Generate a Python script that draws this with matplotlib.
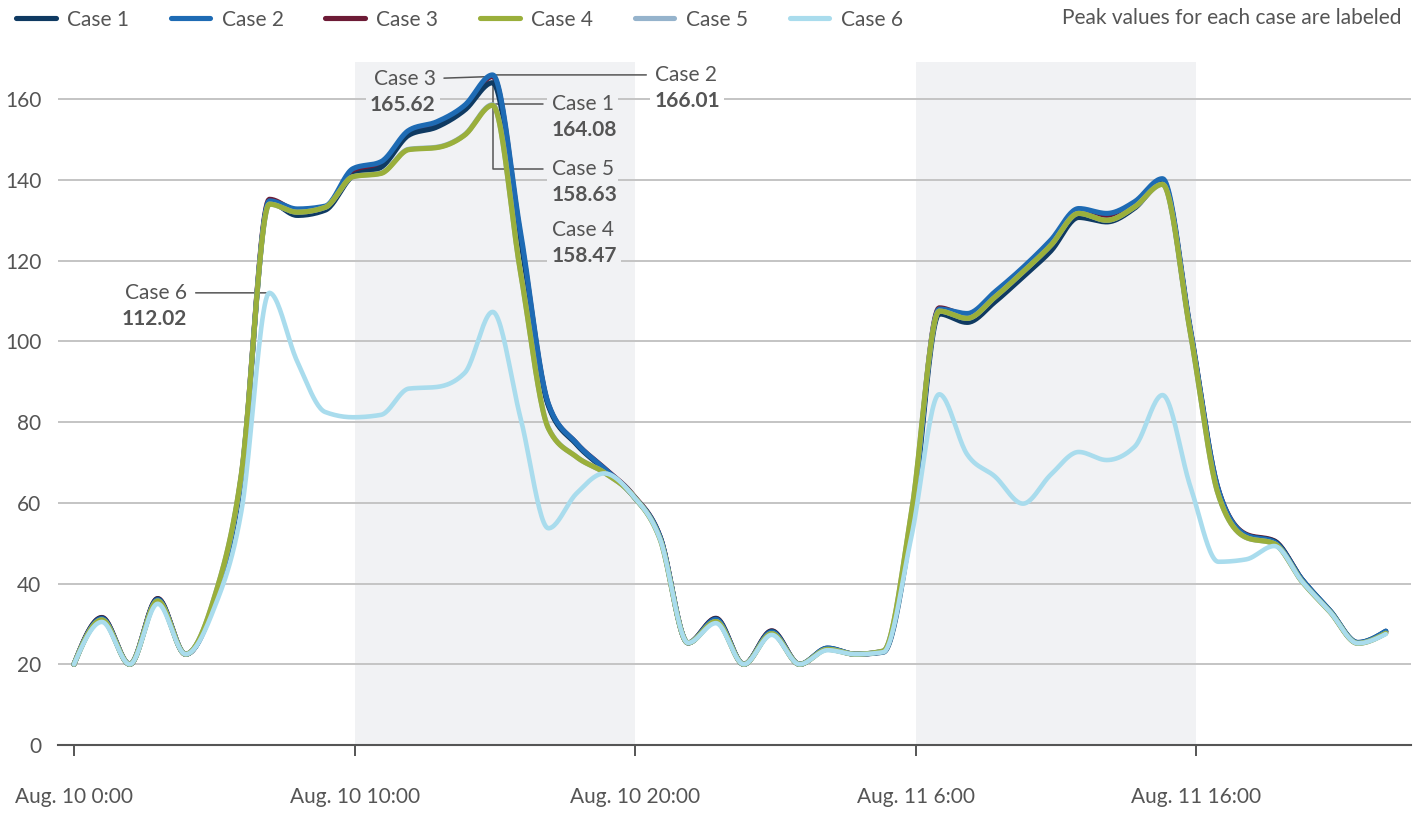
import matplotlib
matplotlib.use('Agg')
import matplotlib.pyplot as plt
from matplotlib.lines import Line2D
import numpy as np

plt.rcParams['font.family'] = ['Lato', 'DejaVu Sans']

# 48 samples, Aug 10 0:00 -> Aug 11 22:45
hours = np.linspace(0, 46.75, 48)

case1 = [20, 31.5, 20, 36.2, 22.5, 35, 66, 134.5, 131.2, 132.5, 141, 143.1, 151.1, 153.1, 157.3, 164.08,
         125, 84, 74.5, 68.3, 62, 51.5, 25.3, 31.3, 20, 28.2, 20, 24, 22.5, 23, 54, 106.8,
         104.7, 109.8, 116, 122.4, 130.7, 129.6, 133, 139.3, 102.5, 63, 52, 50.5, 41, 33.3, 25.4, 28.2]
case2 = [20, 31.3, 20, 36, 22.5, 35.2, 66.5, 134.8, 132.8, 133.5, 142.8, 144.5, 152.3, 154.4, 158.5, 166.01,
         127, 84.5, 74.8, 68.5, 62, 51.5, 25.3, 31.1, 20, 28, 20, 24, 22.5, 23.2, 55, 108,
         106.9, 112.3, 118.3, 125.1, 132.9, 131.7, 134.6, 140.3, 103, 63.3, 52, 50.3, 41, 33.3, 25.4, 28.2]
case3 = [20, 31.6, 20, 36.3, 22.5, 35.3, 66.8, 135.2, 132.5, 133.2, 142, 143.8, 151.8, 153.8, 158, 165.62,
         126, 84.3, 74.8, 68.6, 62.2, 51.6, 25.3, 31.4, 20, 28.3, 20, 23.9, 22.5, 23.2, 55.5, 108.3,
         106.5, 112, 118, 124.5, 132.3, 131, 134, 139.8, 102.8, 63.3, 52.2, 50.6, 41, 33.2, 25.3, 28]
case4 = [20, 31, 20, 35.7, 22.5, 35.9, 67.3, 134, 132, 133.2, 140.8, 141.6, 147.5, 148, 151.1, 158.47,
         117, 78.4, 71.4, 67.5, 62, 51, 25.3, 30.6, 20, 27.6, 20, 23.7, 22.5, 23.3, 57.4, 107.5,
         105.7, 111, 117.2, 123.8, 131.7, 130, 133.3, 138.9, 102, 62, 51.4, 49.9, 40.5, 33, 25.2, 27.7]
case5 = [20, 31, 20, 35.7, 22.5, 35.9, 67.2, 134, 132, 133.2, 140.8, 141.7, 147.6, 148.1, 151.2, 158.63,
         117.2, 78.5, 71.4, 67.5, 62, 51, 25.3, 30.6, 20, 27.6, 20, 23.7, 22.5, 23.3, 57.2, 107.5,
         105.7, 111, 117.2, 123.8, 131.7, 130, 133.3, 138.9, 102, 62, 51.4, 49.9, 40.5, 33, 25.2, 27.7]
case6 = [20, 30.5, 20, 35, 22.5, 33.5, 58, 112.02, 95, 82.5, 81.2, 81.8, 88.3, 88.7, 92.2, 107.3,
         81, 53.7, 62.3, 67.3, 62, 51, 25.3, 30.2, 20, 27.3, 20, 23.5, 22.5, 23, 51.5, 86.9,
         72, 66.5, 59.8, 67, 72.6, 70.6, 73.9, 86.7, 64, 45.4, 46, 49.3, 40.5, 33, 25.2, 27.5]

names = ['Case 1', 'Case 2', 'Case 3', 'Case 4', 'Case 5', 'Case 6']
series = [case1, case2, case3, case4, case5, case6]
colors = ['#0f3a62', '#1e6bb4', '#6d1b36', '#9aaf3b', '#95b3cc', '#a9dced']
draw_order = [2, 0, 1, 4, 3, 5]

shade_spans = [(10, 20), (30, 40)]
tick_hours = [0, 10, 20, 30, 40]
tick_labels = ['Aug. 10 0:00', 'Aug. 10 10:00', 'Aug. 10 20:00', 'Aug. 11 6:00', 'Aug. 11 16:00']

TXT = '#555555'
SHADE = '#f1f2f4'


def monotone(x, y, n=24):
    # same idea as d3.curveMonotoneX
    x = np.asarray(x, float)
    y = np.asarray(y, float)
    h = np.diff(x)
    s = np.diff(y) / h
    m = np.zeros_like(y)
    for i in range(1, len(y) - 1):
        p = (s[i - 1] * h[i] + s[i] * h[i - 1]) / (h[i - 1] + h[i])
        m[i] = (np.sign(s[i - 1]) + np.sign(s[i])) * min(abs(s[i - 1]), abs(s[i]), 0.5 * abs(p))
    m[0] = (3 * s[0] - m[1]) / 2
    m[-1] = (3 * s[-1] - m[-2]) / 2
    xs, ys = [], []
    for i in range(len(h)):
        t = np.linspace(0, 1, n, endpoint=(i == len(h) - 1))
        h00 = 2 * t**3 - 3 * t**2 + 1
        h10 = t**3 - 2 * t**2 + t
        h01 = -2 * t**3 + 3 * t**2
        h11 = t**3 - t**2
        xs.append(x[i] + t * h[i])
        ys.append(h00 * y[i] + h10 * h[i] * m[i] + h01 * y[i + 1] + h11 * h[i] * m[i + 1])
    return np.concatenate(xs), np.concatenate(ys)


fig = plt.figure(figsize=(14.21, 8.13), dpi=100)
ax = fig.add_axes([0.0408, 0.0836, 0.9522, 0.8401])

for a, b in shade_spans:
    ax.axvspan(a, b, color=SHADE, lw=0, zorder=0)

for z, k in enumerate(draw_order):
    sx, sy = monotone(hours, series[k])
    lw = 3.3 if k == 5 else 3.7
    ax.plot(sx, sy, color=colors[k], lw=lw, solid_capstyle='round', solid_joinstyle='round', zorder=3 + z)

ax.set_xlim(-0.57, 47.65)
ax.set_ylim(0, 169.2)
ax.set_yticks(range(0, 161, 20))
ax.yaxis.grid(True, color='#c4c4c4', lw=1.4, zorder=1)
ax.set_axisbelow(True)
ax.tick_params(axis='y', length=0, pad=12, labelsize=15, labelcolor=TXT)
ax.set_xticks(tick_hours)
ax.set_xticklabels(tick_labels)
ax.tick_params(axis='x', length=8, width=1.4, color=TXT, pad=22, labelsize=15, labelcolor=TXT)
for side in ['top', 'right', 'left']:
    ax.spines[side].set_visible(False)
ax.spines['bottom'].set_color(TXT)
ax.spines['bottom'].set_linewidth(1.5)
ax.spines['bottom'].set_zorder(2)

# peak labels: (case index, dx px, dy px, align, box colour, leader)
labels = [
    (2, -57, -3, 'right', SHADE, 'straight'),
    (1, 162, 0, 'left', 'white', 'straight'),
    (0, 59, -21, 'left', SHADE, 'elbow'),
    (4, 59, -64, 'left', SHADE, 'elbow'),
    (3, 59, -125, 'left', SHADE, None),
    (5, -82, 0, 'right', 'white', 'straight'),
]
for k, dx, dy, ha, fc, leader in labels:
    vals = np.asarray(series[k])
    ip = int(np.argmax(vals))
    xy = (hours[ip], vals[ip])
    box = dict(boxstyle='square,pad=0.2', fc=fc, ec='none')
    arrow = None
    if leader == 'straight':
        arrow = dict(arrowstyle='-', color=TXT, lw=1.1, shrinkA=3, shrinkB=0)
    elif leader == 'elbow':
        arrow = dict(arrowstyle='-', color=TXT, lw=1.1, shrinkA=3, shrinkB=0,
                     connectionstyle='angle,angleA=0,angleB=90,rad=0')
    ax.annotate(names[k], xy=xy, xytext=(dx, dy), textcoords='offset pixels', ha=ha, va='center',
                fontsize=15, color=TXT, bbox=box, arrowprops=arrow, zorder=2.5)
    ax.annotate(f'{vals[ip]:.2f}', xy=xy, xytext=(dx, dy - 26), textcoords='offset pixels', ha=ha,
                va='center', fontsize=15, fontweight='bold', color=TXT, bbox=box, zorder=2.5)

handles = [Line2D([], [], color=c, lw=3.7, solid_capstyle='round') for c in colors]
fig.legend(handles, names, loc='upper left', bbox_to_anchor=(0.001, 1.006), ncol=6, frameon=False,
           fontsize=15, handlelength=1.9, handletextpad=0.55, columnspacing=2.0, labelcolor=TXT,
           borderaxespad=0.3)
fig.text(0.986, 0.978, 'Peak values for each case are labeled', ha='right', va='center',
         fontsize=15, color=TXT)

fig.savefig('out.png', dpi=100)
